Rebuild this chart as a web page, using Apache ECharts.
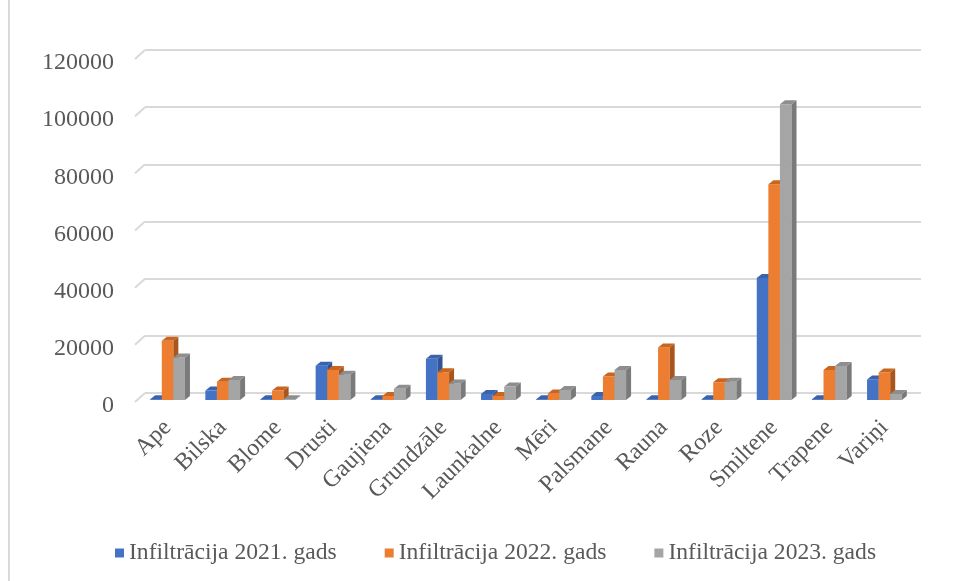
<!DOCTYPE html>
<html>
<head>
<meta charset="utf-8">
<script src="https://cdn.jsdelivr.net/npm/echarts@6/dist/echarts.min.js"></script>
<style>
html,body{margin:0;padding:0;background:#fff;}
#c{width:956px;height:581px;}
</style>
</head>
<body>
<div id="c"></div>
<script>
const categories = ['Ape','Bilska','Blome','Drusti','Gaujiena','Grundzāle','Launkalne','Mēri','Palsmane','Rauna','Roze','Smiltene','Trapene','Variņi'];
const seriesNames = ['Infiltrācija 2021. gads','Infiltrācija 2022. gads','Infiltrācija 2023. gads'];
const values2021 = [300, 3300, 300, 12000, 300, 14400, 2100, 300, 1400, 300, 300, 42700, 300, 7200];
const values2022 = [20700, 6400, 3300, 10500, 1400, 9700, 1400, 2300, 8200, 18400, 6200, 75500, 10500, 9600];
const values2023 = [14900, 7000, 300, 8800, 3900, 5800, 4700, 3500, 10500, 7000, 6400, 103500, 11900, 2100];
const yTicks = [0, 20000, 40000, 60000, 80000, 100000, 120000];

const FONT = '"Liberation Serif", "Times New Roman", serif';
const TEXT = '#595959';
const GRID = '#d9d9d9';
const palettes = [
  {front:'#4472C4', side:'#2F5597', top:'#3A63AE'},
  {front:'#ED7D31', side:'#A9561C', top:'#C9651F'},
  {front:'#A5A5A5', side:'#7A7A7A', top:'#8E8E8E'}
];

function make3D(idx) {
  const pal = palettes[idx];
  return function (params, api) {
    const cat = api.value(0), v = api.value(1);
    const base = api.coord([cat, 0]);
    const top = api.coord([cat, v]);
    const band = api.size([1, 0])[0];
    const w = band * 0.21;
    const x0 = base[0] + (idx - 1.5) * w;
    const x1 = x0 + w;
    const dx = 5, dy = 4;
    const yt = top[1], yb = base[1];
    return {
      type: 'group',
      children: [
        {type:'rect', shape:{x:x0, y:yt, width:w, height:Math.max(yb-yt,0.8)}, style:{fill:pal.front}},
        {type:'polygon', shape:{points:[[x1,yt],[x1+dx,yt-dy],[x1+dx,yb-dy],[x1,yb]]}, style:{fill:pal.side}},
        {type:'polygon', shape:{points:[[x0,yt],[x0+dx,yt-dy],[x1+dx,yt-dy],[x1,yt]]}, style:{fill:pal.top}}
      ]
    };
  };
}

const allVals = [values2021, values2022, values2023];
const chart = echarts.init(document.getElementById('c'));
const option = {
  backgroundColor: '#fff',
  animation: false,
  textStyle: {fontFamily: FONT},
  graphic: [{type:'line', shape:{x1:9, y1:0, x2:9, y2:581}, style:{stroke:GRID, lineWidth:2}}],
  legend: {
    left: 110, top: 536,
    itemWidth: 9, itemHeight: 9, itemGap: 48,
    icon: 'rect',
    textStyle: {fontFamily: FONT, fontSize: 23.6, color: TEXT},
    data: seriesNames
  },
  grid: [
    {left: 140, right: 44, top: 57, bottom: 181},
    {left: 145, right: 35, top: 50, bottom: 188},
    {left: 140, right: 44, top: 63, bottom: 175}
  ],
  xAxis: [
    {type:'category', gridIndex:0, data:categories, boundaryGap:true,
     axisLine:{show:false}, axisTick:{show:false},
     axisLabel:{rotate:45, margin:24, interval:0, fontFamily:FONT, fontSize:24, color:TEXT}},
    {type:'value', gridIndex:1, min:0, max:1, show:false},
    {type:'value', gridIndex:2, min:0, max:1, show:false}
  ],
  yAxis: [
    {type:'value', gridIndex:0, min:0, max:120000, interval:20000, show:false},
    {type:'value', gridIndex:1, min:0, max:120000, interval:20000,
     axisLine:{show:false}, axisTick:{show:false}, axisLabel:{show:false},
     splitLine:{show:true, lineStyle:{color:GRID, width:2}}},
    {type:'value', gridIndex:2, min:0, max:120000, interval:20000,
     axisLine:{show:false}, axisTick:{show:false}, splitLine:{show:false},
     axisLabel:{margin:26, fontFamily:FONT, fontSize:24, color:TEXT,
                formatter: function (v) { return String(v); }}}
  ],
  series: [
    {type:'custom', xAxisIndex:1, yAxisIndex:1, z:1, silent:true,
     data: yTicks.map(v => [0, v]),
     renderItem: function (params, api) {
       const p = api.coord([0, api.value(1)]);
       return {type:'line', shape:{x1:p[0]-10, y1:p[1]+9, x2:p[0], y2:p[1]}, style:{stroke:GRID, lineWidth:2}};
     }}
  ].concat(allVals.map((vals, i) => ({
    type:'custom', name: seriesNames[i], xAxisIndex:0, yAxisIndex:0, z: 3 + i,
    itemStyle:{color: palettes[i].front},
    encode:{x:0, y:1},
    data: vals.map((v, j) => [j, v]),
    renderItem: make3D(i)
  })))
};
chart.setOption(option);
</script>
</body>
</html>
